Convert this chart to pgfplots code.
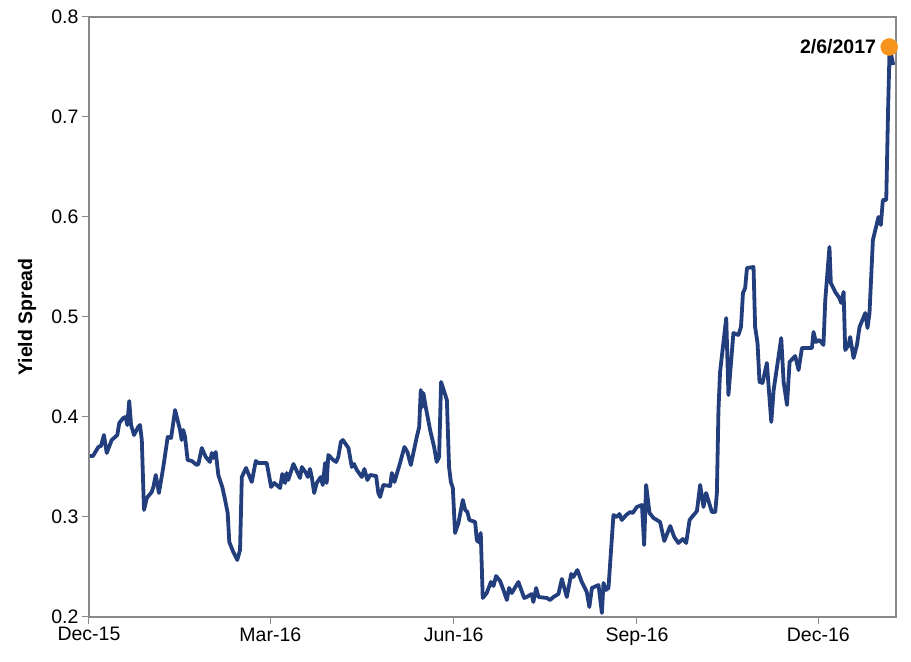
\documentclass[border=0pt]{standalone}
\usepackage{fontspec}
\setmainfont{Liberation Sans}
\usepackage{pgfplots}
\pgfplotsset{compat=1.18}
\definecolor{spreadblue}{HTML}{233E7C}
\definecolor{lastdot}{HTML}{F7941D}
\definecolor{axisgray}{HTML}{898989}
\begin{document}
\begin{tikzpicture}
\begin{axis}[
  name=ax,
  scale only axis, width=807bp, height=600bp,
  xmin=0, xmax=405, ymin=0.2, ymax=0.8,
  xtick={0,91,183,275,366},
  xticklabels={Dec-15,Mar-16,Jun-16,Sep-16,Dec-16},
  ytick={0.2,0.3,0.4,0.5,0.6,0.7,0.8},
  /pgf/number format/assume math mode=true,
  yticklabel style={/pgf/number format/.cd, fixed, fixed zerofill, precision=1},
  tick label style={font=\fontsize{19.5bp}{23bp}\selectfont, black},
  tick align=outside, major tick length=7bp,
  xtick pos=lower, ytick pos=left,
  tick style={axisgray, line width=1bp},
  axis line style={axisgray, line width=1.2bp},
  ylabel={Yield Spread},
  ylabel style={at={(axis description cs:-0.0768,0.5)}, anchor=center,
    font=\fontsize{19.5bp}{23bp}\selectfont\bfseries},
  clip=false,
]
% yield spread, x = days after the Dec-15 tick
\addplot[spreadblue, line width=3.8bp, line join=round] coordinates {
(0.5,0.361) (2.0,0.361) (4.7,0.370) (6.0,0.371) (7.5,0.382) (8.9,0.364)
(11.4,0.377) (13.1,0.380) (14.2,0.382) (15.2,0.394) (17.2,0.399) (18.4,0.400)
(19.2,0.392) (20.2,0.416) (21.1,0.392) (22.6,0.382) (24.7,0.390) (25.6,0.392)
(26.5,0.377) (27.6,0.307) (29.0,0.319) (31.5,0.325) (32.3,0.330) (33.5,0.342)
(35.1,0.324) (37.3,0.350) (39.5,0.380) (41.2,0.379) (43.2,0.407) (45.7,0.387)
(46.5,0.377) (47.3,0.387) (48.2,0.380) (49.5,0.357) (51.6,0.356) (54.1,0.352)
(54.9,0.353) (56.6,0.369) (58.6,0.360) (60.7,0.355) (61.6,0.364) (62.4,0.359)
(63.6,0.365) (64.9,0.342) (66.9,0.330) (68.3,0.317) (69.6,0.304) (70.4,0.275)
(72.4,0.265) (74.4,0.257) (75.8,0.267) (76.7,0.340) (78.8,0.349) (81.7,0.335)
(83.7,0.356) (85.0,0.354) (89.2,0.354) (91.4,0.330) (93.0,0.334) (95.9,0.329)
(97.0,0.343) (98.4,0.334) (99.2,0.344) (100.0,0.337) (102.6,0.353) (105.9,0.339)
(106.8,0.350) (108.9,0.344) (109.8,0.340) (110.9,0.348) (111.8,0.340) (113.0,0.324)
(114.3,0.334) (116.3,0.340) (117.3,0.332) (118.5,0.354) (119.3,0.334) (120.1,0.362)
(122.6,0.357) (124.0,0.355) (125.1,0.360) (126.4,0.375) (127.4,0.377) (130.2,0.369)
(131.9,0.350) (133.0,0.353) (134.4,0.347) (136.9,0.340) (138.2,0.348) (139.7,0.337)
(141.1,0.342) (144.1,0.341) (145.2,0.324) (146.1,0.320) (147.7,0.332) (151.1,0.331)
(152.0,0.344) (153.3,0.335) (156.1,0.354) (158.3,0.370) (159.8,0.365) (161.5,0.352)
(164.5,0.380) (165.7,0.390) (166.5,0.427) (167.2,0.410) (167.8,0.424) (169.0,0.410)
(171.2,0.387) (173.2,0.370) (174.5,0.355) (175.7,0.360) (176.7,0.435) (179.6,0.417)
(180.7,0.350) (181.6,0.335) (182.6,0.329) (183.7,0.284) (185.4,0.294) (187.6,0.317)
(188.8,0.307) (189.9,0.305) (190.9,0.297) (193.8,0.295) (194.6,0.277) (195.4,0.275)
(196.6,0.284) (197.6,0.219) (199.6,0.224) (201.7,0.235) (203.0,0.231) (204.3,0.241)
(206.3,0.236) (208.0,0.227) (209.7,0.217) (210.8,0.229) (212.2,0.224) (215.5,0.235)
(218.4,0.219) (219.7,0.220) (222.2,0.223) (223.0,0.215) (224.4,0.229) (225.6,0.220)
(229.8,0.219) (231.4,0.217) (233.1,0.220) (235.6,0.223) (237.3,0.238) (239.8,0.220)
(242.0,0.243) (243.1,0.240) (245.1,0.247) (247.3,0.235) (249.8,0.225) (251.1,0.210)
(252.4,0.229) (255.7,0.232) (257.4,0.204) (258.2,0.234) (259.4,0.227) (260.7,0.229)
(263.2,0.302) (264.9,0.300) (266.2,0.303) (267.4,0.297) (269.6,0.302) (271.6,0.305)
(272.9,0.304) (274.9,0.310) (277.5,0.312) (278.6,0.272) (279.6,0.332) (281.3,0.304)
(283.3,0.299) (285.0,0.297) (286.6,0.295) (288.7,0.276) (291.7,0.291) (293.7,0.280)
(295.8,0.274) (298.0,0.278) (299.7,0.274) (301.4,0.297) (305.1,0.306) (306.7,0.332)
(308.4,0.310) (309.7,0.324) (312.6,0.305) (314.3,0.305) (315.1,0.324) (315.9,0.407)
(316.7,0.445) (319.8,0.499) (320.9,0.422) (323.4,0.484) (325.9,0.482) (327.2,0.490)
(328.2,0.524) (329.3,0.529) (330.2,0.549) (333.5,0.550) (334.3,0.490) (335.5,0.474)
(336.5,0.435) (338.0,0.434) (340.2,0.454) (342.4,0.395) (343.6,0.427) (347.4,0.479)
(348.6,0.435) (350.3,0.412) (351.6,0.455) (354.4,0.461) (356.1,0.447) (357.8,0.469)
(362.8,0.469) (363.6,0.485) (364.8,0.475) (366.6,0.477) (368.6,0.472) (369.5,0.517)
(371.6,0.570) (372.3,0.534) (374.5,0.525) (376.6,0.519) (377.5,0.514) (378.7,0.525)
(379.5,0.467) (381.2,0.472) (382.0,0.480) (383.7,0.459) (385.4,0.472) (386.7,0.490)
(389.6,0.504) (390.7,0.489) (391.7,0.504) (393.4,0.577) (396.2,0.600) (397.4,0.592)
(398.4,0.617) (400.1,0.617) (401.0,0.705) (401.8,0.770) (403.6,0.752)
};
% last observation
\addplot[only marks, mark=*, mark size=8.5bp, lastdot, draw=lastdot] coordinates {(401.6,0.770)};
\node[anchor=east, inner sep=0pt, xshift=-13bp,
  font=\fontsize{19.5bp}{23bp}\selectfont\bfseries] at (axis cs:401.6,0.770) {2/6/2017};
\end{axis}
\pgfresetboundingbox
\path ([shift={(-89bp,-45bp)}]ax.south west) rectangle ([shift={(15bp,17bp)}]ax.north east);
\end{tikzpicture}
\end{document}
